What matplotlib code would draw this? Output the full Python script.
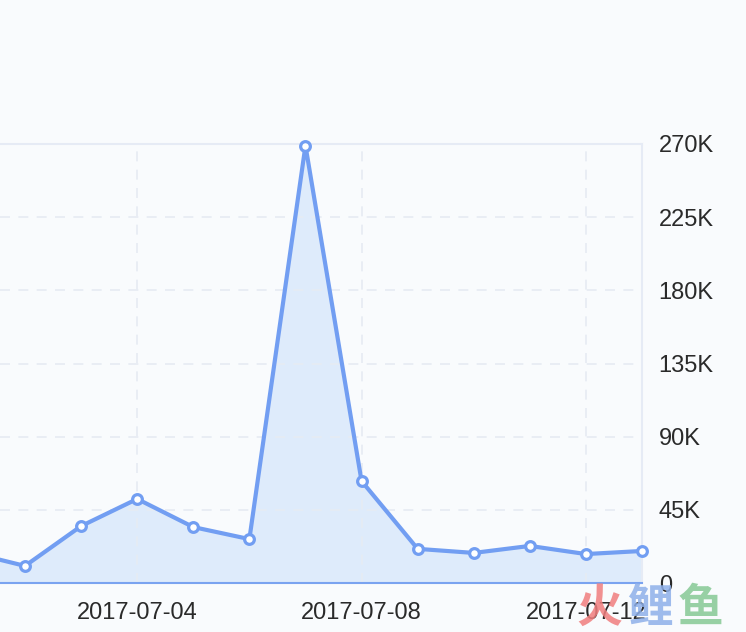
import matplotlib.pyplot as plt
from matplotlib.ticker import FuncFormatter
import numpy as np

# daily values (thousands)
dates = ['2017-07-01', '2017-07-02', '2017-07-03', '2017-07-04', '2017-07-05',
         '2017-07-06', '2017-07-07', '2017-07-08', '2017-07-09', '2017-07-10',
         '2017-07-11', '2017-07-12', '2017-07-13']
values = [19.0, 10.5, 35.0, 51.7, 34.4, 27.0, 269.0, 62.7, 21.0, 18.5, 22.8, 17.8, 19.7]
y_ticks = [0, 45, 90, 135, 180, 225, 270]
x_tick_dates = ['2017-06-30', '2017-07-04', '2017-07-08', '2017-07-12']

plt.rcParams['font.family'] = ['Liberation Sans', 'DejaVu Sans']

bg = '#f9fbfd'
line_c = '#729ef2'
fill_c = '#deebfb'
grid_c = '#e6ebf3'
text_c = '#2a2a2a'

x = np.arange(len(values))
fig = plt.figure(figsize=(7.46, 6.32), dpi=100, facecolor=bg)
ax = fig.add_axes([0, 1 - 583 / 632, 642 / 746, 439 / 632])
ax.set_facecolor(bg)

ax.fill_between(x, values, 0, color=fill_c, zorder=1)
ax.plot(x, values, color=line_c, lw=3, zorder=3, clip_on=False)
ax.plot(x, values, 'o', ms=7, mfc='white', mec=line_c, mew=2.3, zorder=4, clip_on=False)

# x positions: 2017-07-01 -> 0
tick_pos = [int(d[-2:]) - 1 if d[5:7] == '07' else int(d[-2:]) - 31 for d in x_tick_dates]
ax.set_xticks(tick_pos)
ax.set_xticklabels(x_tick_dates)
ax.set_xlim(0.554, 12)
ax.set_ylim(0, 270)
ax.set_yticks(y_ticks)
ax.yaxis.set_major_formatter(FuncFormatter(lambda v, p: '0' if v == 0 else '%dK' % v))
ax.yaxis.tick_right()

ax.grid(True, color=grid_c, lw=1.2, ls=(0, (6, 5)), zorder=0)
ax.tick_params(axis='both', length=0, labelsize=17, colors=text_c)
ax.tick_params(axis='x', pad=14)
ax.tick_params(axis='y', pad=12)

ax.spines['left'].set_visible(False)
ax.spines['top'].set_color('#e6ebf5')
ax.spines['right'].set_color('#e6ebf5')
ax.spines['top'].set_linewidth(1.5)
ax.spines['right'].set_linewidth(1.5)
ax.spines['bottom'].set_color('#7aa3f0')
ax.spines['bottom'].set_linewidth(1.5)

# watermark
wm = [('火', '#f07e7e', 599), ('鲤', '#8eb0ea', 650), ('鱼', '#86c995', 700)]
for ch, c, px in wm:
    fig.text(px / 746, 1 - 609 / 632, ch, color=c, alpha=0.85, fontsize=33,
             family=['Noto Sans CJK SC'], ha='center', va='center', fontweight='bold')

fig.savefig('out.png', dpi=100, facecolor=bg)
